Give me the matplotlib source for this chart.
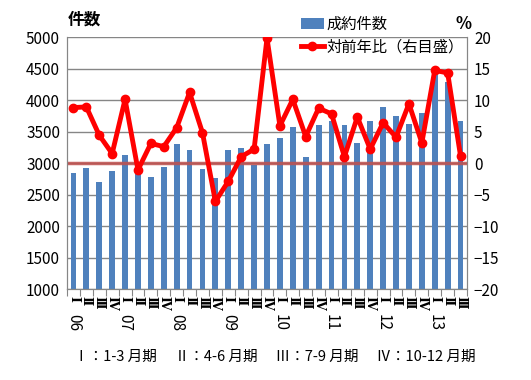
import matplotlib.pyplot as plt
import numpy as np

plt.rcParams['font.family'] = ['Noto Sans CJK JP', 'DejaVu Sans']

# 2006 Q1 .. 2013 Q3
years = ["06", "07", "08", "09", "10", "11", "12", "13"]
quarters = ["Ⅰ", "Ⅱ", "Ⅲ", "Ⅳ"]
contracts = [2840, 2925, 2700, 2875, 3130, 2950, 2780, 2940,
             3305, 3210, 2910, 2765, 3210, 3245, 2975, 3305,
             3400, 3575, 3100, 3605, 3670, 3605, 3320, 3670,
             3895, 3745, 3620, 3800, 4450, 4290, 3670]
yoy = [8.8, 8.9, 4.4, 1.5, 10.1, -1.1, 3.1, 2.6,
       5.6, 11.2, 4.8, -6.1, -2.9, 1.0, 2.2, 19.8,
       5.9, 10.1, 4.2, 8.7, 7.8, 1.0, 7.3, 2.2,
       6.4, 4.1, 9.4, 3.2, 14.7, 14.3, 1.1]

n = len(contracts)
x = np.arange(n)

fig = plt.figure(figsize=(5.31, 3.80), dpi=100)
ax = fig.add_axes([67/531, 1 - 289/380, 400/531, 252/380])
ax2 = ax.twinx()

ax.set_ylim(1000, 5000)
ax.set_yticks(np.arange(1000, 5001, 500))
ax.yaxis.grid(True, color='#868686', linewidth=1)
ax.set_axisbelow(True)
bars = ax.bar(x, contracts, width=0.45, color='#4F81BD', label='成約件数', zorder=2)
ax.set_xlim(-0.5, n - 0.5)

ax2.set_ylim(-20, 20)
ax2.set_yticks(np.arange(-20, 21, 5))
ax2.axhline(0, color='#C0504D', linewidth=2.5, alpha=0.85, zorder=1)
line, = ax2.plot(x, yoy, color='#FF0000', linewidth=3.5, marker='o', markersize=6,
                 label='対前年比（右目盛）', zorder=3)

for a in (ax, ax2):
    for s in a.spines.values():
        s.set_color('#868686')
    a.spines['top'].set_visible(False)
    a.tick_params(axis='y', length=0, labelsize=11, pad=5)

# x ticks: boundaries as tick marks, labels via text
ax.set_xticks(np.arange(-0.5, n, 1))
ax.set_xticklabels([])
ax.tick_params(axis='x', length=5, color='#868686', direction='out')

for i in range(n):
    ax.text(x[i], 995 - 110, quarters[i % 4], rotation=-90, ha='center', va='top',
            fontsize=9, fontweight='bold', family=['DejaVu Serif', 'Noto Sans CJK JP'])
for j, yl in enumerate(years):
    ax.text(j * 4, 995 - 390, yl, rotation=-90, ha='center', va='top', fontsize=11)

fig.text(68/531, 1 - 20/380, '件数', fontsize=12, fontweight='bold', va='center')
fig.text(455/531, 1 - 24/380, '%', fontsize=12, fontweight='bold', va='center')

fig.legend([bars, line], ['成約件数', '対前年比（右目盛）'],
           loc='upper left', bbox_to_anchor=(290/531, 1 - 5/380), frameon=False,
           fontsize=11, handlelength=1.5, handletextpad=0.2, labelspacing=0.35,
           borderpad=0.2)

fig.text(275/531, 1 - 357/380, 'Ⅰ：1-3 月期　 Ⅱ：4-6 月期　 Ⅲ：7-9 月期　 Ⅳ：10-12 月期',
         ha='center', va='center', fontsize=10.5)

fig.savefig('out.png', dpi=100)
